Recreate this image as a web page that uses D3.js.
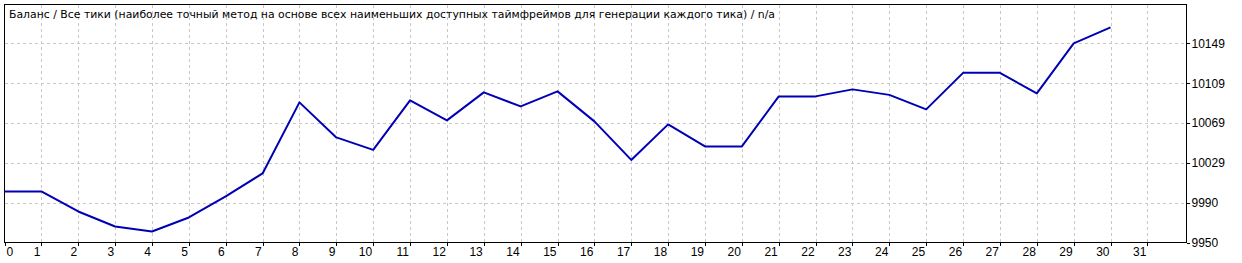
<!DOCTYPE html>
<html>
<head>
<meta charset="utf-8">
<script src="https://cdn.jsdelivr.net/npm/d3@7"></script>
<style>
  html, body { margin: 0; padding: 0; background: #fff; }
  svg { display: block; }
</style>
</head>
<body>
<svg id="chart" width="1242" height="263"></svg>
<script>
const titleText = "Баланс / Все тики (наиболее точный метод на основе всех наименьших доступных таймфреймов для генерации каждого тика) / n/a";
const xTicks = d3.range(0, 32);
const deals = d3.range(0, 31);
const balance = [10001, 10001, 9981, 9966, 9961, 9975, 9996, 10019, 10090, 10055, 10042.5,
                 10092, 10072, 10100, 10086, 10101, 10071, 10032.5, 10068, 10046, 10046,
                 10096, 10096, 10103, 10097.5, 10083, 10119.5, 10119.5, 10099, 10149, 10165];
const yTickValues = [9950, 9989.8, 10029.6, 10069.4, 10109.2, 10149];
const yTickLabels = ["9950", "9990", "10029", "10069", "10109", "10149"];

const L = 4.5, R = 1186.5, T = 4.5, B = 242.5;
const svg = d3.select("#chart");
const x = d3.scaleLinear().domain([0, 32.06]).range([L, R]);
const y = d3.scaleLinear().domain([9950, 10187.8]).range([B, T]);

const fontLab = "'Liberation Sans', Arial, sans-serif";

// grid
const grid = svg.append("g").attr("stroke", "#c8c8c8").attr("stroke-dasharray", "3,3").attr("shape-rendering", "crispEdges");
grid.selectAll(".vx").data(xTicks.filter(d => d > 0)).join("line")
  .attr("x1", d => Math.round(x(d)) + 0.5).attr("x2", d => Math.round(x(d)) + 0.5)
  .attr("y1", T).attr("y2", B);
grid.selectAll(".hy").data(yTickValues.filter(d => d > 9950)).join("line")
  .attr("x1", L).attr("x2", R)
  .attr("y1", d => Math.round(y(d)) + 0.5).attr("y2", d => Math.round(y(d)) + 0.5);

// frame
svg.append("rect").attr("x", L).attr("y", T).attr("width", R - L).attr("height", B - T)
  .attr("fill", "none").attr("stroke", "#000").attr("shape-rendering", "crispEdges");

// x axis
const xAxis = d3.axisBottom(x).tickValues(xTicks).tickSize(3).tickPadding(2).tickFormat(d3.format("d"));
const gx = svg.append("g").attr("transform", `translate(0,${B})`).call(xAxis);
gx.select(".domain").remove();
gx.selectAll(".tick line").attr("stroke", "#000").attr("shape-rendering", "crispEdges");
gx.selectAll(".tick text")
  .attr("font-family", fontLab).attr("font-size", 12).attr("fill", "#000")
  .attr("text-anchor", d => d === 0 ? "start" : "end")
  .attr("x", d => d === 0 ? 1.5 : -1.5)
  .attr("dy", "0.71em").attr("y", 5);

// y axis
const yAxis = d3.axisRight(y).tickValues(yTickValues).tickSize(3).tickPadding(2)
  .tickFormat((d, i) => yTickLabels[i]);
const gy = svg.append("g").attr("transform", `translate(${R},0)`).call(yAxis);
gy.select(".domain").remove();
gy.selectAll(".tick line").attr("stroke", "#000").attr("shape-rendering", "crispEdges");
gy.selectAll(".tick text").attr("font-family", fontLab).attr("font-size", 12).attr("fill", "#000");

// line
const line = d3.line().x((d, i) => x(deals[i])).y(d => y(d));
svg.append("path").datum(balance).attr("d", line)
  .attr("fill", "none").attr("stroke", "#0000b4").attr("stroke-width", 2).attr("stroke-linejoin", "round");

// title
svg.append("text").attr("x", 9).attr("y", 18)
  .attr("font-family", "'DejaVu Sans', Verdana, sans-serif").attr("font-size", 10.86).attr("fill", "#000")
  .text(titleText);
</script>
</body>
</html>
